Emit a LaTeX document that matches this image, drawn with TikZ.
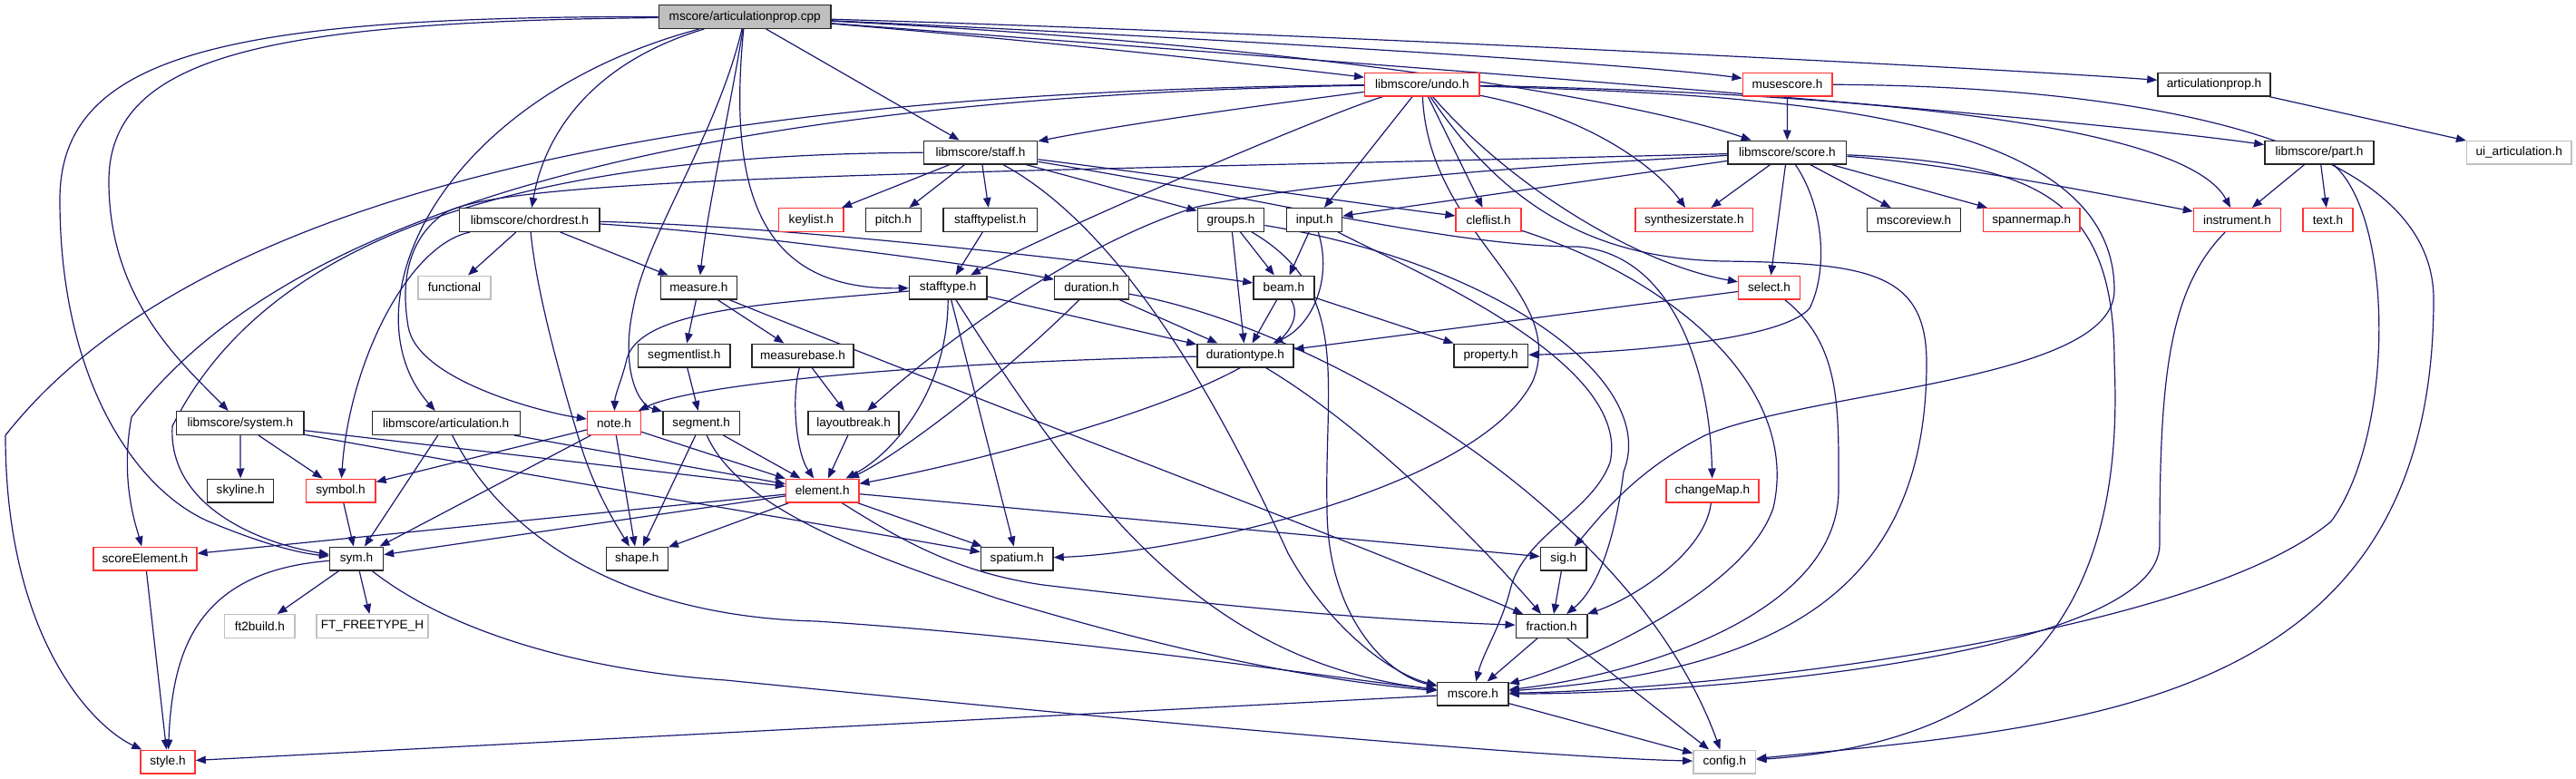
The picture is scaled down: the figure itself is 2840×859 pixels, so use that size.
\documentclass[tikz,border=0pt]{standalone}
\usepackage{fontspec}
\setmainfont{Liberation Sans}
\usetikzlibrary{arrows.meta}
\definecolor{edgeblue}{HTML}{191970}
\definecolor{nodered}{HTML}{FF3333}
\definecolor{nodegray}{HTML}{BFBFBF}
\pgfdeclarelayer{bg}
\pgfsetlayers{bg,main}
\begin{document}
\begin{tikzpicture}[x=1pt,y=-1pt,
  box/.style={draw=black!85,line width=1.4pt,fill=white,minimum height=25.6pt,inner sep=0pt,
    font=\fontsize{13.6}{16}\selectfont,text=black},
  redbox/.style={box,draw=nodered},
  graybox/.style={box,draw=nodegray},
  mainbox/.style={box,fill=nodegray},
  edge/.style={draw=edgeblue,line width=1.2pt,-{Triangle[length=11pt,width=8.5pt]}}]
\useasboundingbox (0,0) rectangle (2840,859);
% row 0
\node[mainbox,minimum width=189.7] (main) at (821.2,18.5) {mscore/articulationprop.cpp};
% row 1
\node[redbox,minimum width=126.3] (undo) at (1567.8,93) {libmscore/undo.h};
\node[redbox,minimum width=98.7] (musescore) at (1970.6,93) {musescore.h};
\node[box,minimum width=124.1] (artprop) at (2441,93) {articulationprop.h};
% row 2
\node[box,minimum width=125.4] (staff) at (1081,168) {libmscore/staff.h};
\node[box,minimum width=130.8] (score) at (1970.3,168) {libmscore/score.h};
\node[box,minimum width=120.3] (part) at (2557,168) {libmscore/part.h};
\node[graybox,minimum width=115.2] (uiart) at (2777.2,168) {ui\_articulation.h};
% row 3
\node[box,minimum width=154.4] (chordrest) at (583.9,242.5) {libmscore/chordrest.h};
\node[redbox,minimum width=71.5] (keylist) at (894.3,242.5) {keylist.h};
\node[box,minimum width=61.1] (pitch) at (985,242.5) {pitch.h};
\node[box,minimum width=103.3] (stafftypelist) at (1091.7,242.5) {stafftypelist.h};
\node[box,minimum width=73.4] (groups) at (1357,242.5) {groups.h};
\node[box,minimum width=61.1] (input) at (1449.2,242.5) {input.h};
\node[redbox,minimum width=72] (cleflist) at (1641.1,242.5) {cleflist.h};
\node[redbox,minimum width=129.5] (synth) at (1867.8,242.5) {synthesizerstate.h};
\node[box,minimum width=102.5] (mscoreview) at (2110,242.5) {mscoreview.h};
\node[redbox,minimum width=106.6] (spannermap) at (2239.7,242.5) {spannermap.h};
\node[redbox,minimum width=95.8] (instrument) at (2466.4,242.5) {instrument.h};
\node[redbox,minimum width=55.2] (texth) at (2566.5,242.5) {text.h};
% row 4
\node[graybox,minimum width=80] (functional) at (501,317) {functional};
\node[box,minimum width=83.8] (measure) at (770.4,317) {measure.h};
\node[box,minimum width=85.5] (stafftype) at (1045.2,317) {stafftype.h};
\node[box,minimum width=81.5] (duration) at (1203.5,317) {duration.h};
\node[box,minimum width=67] (beam) at (1415.4,317) {beam.h};
\node[redbox,minimum width=68] (select) at (1950.6,317) {select.h};
% row 5
\node[box,minimum width=101.4] (segmentlist) at (754.3,392) {segmentlist.h};
\node[box,minimum width=111.9] (measurebase) at (885,392) {measurebase.h};
\node[box,minimum width=105.9] (durationtype) at (1372.9,392) {durationtype.h};
\node[box,minimum width=81.5] (property) at (1643.6,392) {property.h};
% row 6
\node[box,minimum width=140.4] (system) at (264.9,466.5) {libmscore/system.h};
\node[box,minimum width=163] (articulation) at (491.7,466.5) {libmscore/articulation.h};
\node[redbox,minimum width=58.9] (note) at (677,466.5) {note.h};
\node[box,minimum width=84.7] (segment) at (773.2,466.5) {segment.h};
\node[box,minimum width=100] (layoutbreak) at (941.1,466.5) {layoutbreak.h};
% row 7
\node[box,minimum width=72.9] (skyline) at (265.2,541) {skyline.h};
\node[redbox,minimum width=76.6] (symbol) at (375.6,541) {symbol.h};
\node[redbox,minimum width=80.2] (element) at (906.7,541) {element.h};
\node[redbox,minimum width=101.8] (changemap) at (1887.9,541) {changeMap.h};
% row 8
\node[redbox,minimum width=114.1] (scoreelement) at (159.9,616) {scoreElement.h};
\node[box,minimum width=58.9] (sym) at (393,616) {sym.h};
\node[box,minimum width=67.9] (shape) at (702.3,616) {shape.h};
\node[box,minimum width=79.7] (spatium) at (1121.2,616) {spatium.h};
\node[box,minimum width=50.7] (sig) at (1723.8,616) {sig.h};
% row 9
\node[graybox,minimum width=77.4] (ft2build) at (286.4,690.5) {ft2build.h};
\node[graybox,minimum width=122.7] (fttype) at (410.5,690.5) {FT\_FREETYPE\_H};
\node[box,minimum width=78.8] (fraction) at (1710.6,690.5) {fraction.h};
% row 10
\node[box,minimum width=78.4] (mscore) at (1623.9,765) {mscore.h};
% row 11
\node[redbox,minimum width=60.2] (style) at (185,840) {style.h};
\node[graybox,minimum width=68.9] (config) at (1901.3,840) {config.h};

\begin{pgfonlayer}{bg}
% main
\draw[edge] (main) .. controls (1150,45) and (1420,75) .. (undo);
\draw[edge] (main) .. controls (1300,40) and (1800,70) .. (musescore);
\draw[edge] (main) .. controls (1400,35) and (2200,75) .. (artprop);
\draw[edge] (main) .. controls (1450,50) and (1800,110) .. (score);
\draw[edge] (main) .. controls (1500,70) and (2250,125) .. (part);
\draw[edge] (main) -- (staff);
\draw[edge] (main) .. controls (650,70) and (600,150) .. (chordrest);
\draw[edge] (main) .. controls (480,110) and (380,340) .. (articulation);
\draw[edge] (main) .. controls (300,24) and (120,60) .. (120,200) .. controls (120,330) and (200,400) .. (system);
\draw[edge] (main) .. controls (250,18) and (66,60) .. (66,220) .. controls (66,420) and (150,540) .. (230,575) .. controls (290,600) and (330,610) .. (sym);
\draw[edge] (main) .. controls (805,120) and (780,230) .. (measure);
\draw[edge] (main) .. controls (800,230) and (850,320) .. (stafftype);
\draw[edge] (main) .. controls (790,150) and (712,260) .. (698,340) .. controls (685,400) and (700,445) .. (segment);
% undo
\draw[edge] (undo) .. controls (1400,115) and (1250,135) .. (staff);
\draw[edge] (undo) .. controls (1450,130) and (1150,260) .. (stafftype);
\draw[edge] (undo) .. controls (900,100) and (250,170) .. (6,480) .. controls (6,700) and (100,800) .. (style);
\draw[edge] (undo) .. controls (900,105) and (350,190) .. (145,460) .. controls (132,530) and (150,580) .. (scoreelement);
\draw[edge] (undo) -- (input);
\draw[edge] (undo) -- (cleflist);
\draw[edge] (undo) .. controls (1760,130) and (1830,190) .. (synth);
\draw[edge] (undo) .. controls (1660,200) and (1800,290) .. (select);
\draw[edge] (undo) .. controls (1660,230) and (1760,285) .. (1900,288) .. controls (2060,290) and (2124,300) .. (2124,400) .. controls (2124,660) and (1950,740) .. (mscore);
\draw[edge] (undo) .. controls (1950,105) and (2331,120) .. (2331,320) .. controls (2331,420) and (2000,430) .. (1880,480) .. controls (1800,520) and (1760,575) .. (sig);
\draw[edge] (undo) .. controls (1575,260) and (1730,320) .. (1690,420) .. controls (1630,540) and (1300,610) .. (spatium);
\draw[edge] (undo) .. controls (1900,100) and (2400,120) .. (instrument);
% musescore, artprop
\draw[edge] (musescore) -- (score);
\draw[edge] (musescore) .. controls (2350,95) and (2683,150) .. (2683,330) .. controls (2683,780) and (2300,800) .. (config);
\draw[edge] (artprop) -- (uiart);
% score
\draw[edge] (score) -- (input);
\draw[edge] (score) -- (synth);
\draw[edge] (score) -- (mscoreview);
\draw[edge] (score) -- (spannermap);
\draw[edge] (score) -- (select);
\draw[edge] (score) .. controls (2012,230) and (2015,300) .. (1995,340) .. controls (1960,380) and (1750,390) .. (property);
\draw[edge] (score) .. controls (2150,180) and (2350,220) .. (instrument);
\draw[edge] (score) .. controls (2250,180) and (2331,220) .. (2331,400) .. controls (2345,700) and (2200,820) .. (config);
\draw[edge] (score) .. controls (1700,182) and (1450,200) .. (1320,228) .. controls (1200,265) and (1060,360) .. (layoutbreak);
\draw[edge] (score) .. controls (1000,192) and (560,195) .. (490,235) .. controls (440,270) and (445,330) .. (450,360) .. controls (460,420) and (600,455) .. (note);
% part, instrument
\draw[edge] (part) -- (instrument);
\draw[edge] (part) -- (texth);
\draw[edge] (part) .. controls (2640,240) and (2640,480) .. (2570,575) .. controls (2420,700) and (1900,760) .. (mscore);
\draw[edge] (instrument) .. controls (2390,320) and (2381,420) .. (2381,600) .. controls (2381,720) and (1900,765) .. (mscore);
% staff
\draw[edge] (staff) -- (keylist);
\draw[edge] (staff) -- (pitch);
\draw[edge] (staff) -- (stafftypelist);
\draw[edge] (staff) -- (groups);
\draw[edge] (staff) .. controls (1300,195) and (1500,225) .. (cleflist);
\draw[edge] (staff) .. controls (1400,220) and (1600,272) .. (1740,272) .. controls (1840,280) and (1885,400) .. (changemap);
\draw[edge] (staff) .. controls (600,170) and (300,250) .. (190,470) .. controls (185,560) and (290,600) .. (sym);
\draw[edge] (staff) .. controls (1250,260) and (1360,480) .. (1420,610) .. controls (1470,700) and (1540,745) .. (mscore);
% chordrest
\draw[edge] (chordrest) -- (functional);
\draw[edge] (chordrest) .. controls (450,270) and (385,400) .. (symbol);
\draw[edge] (chordrest) .. controls (592,330) and (625,440) .. (640,490) .. controls (655,540) and (680,580) .. (shape);
\draw[edge] (chordrest) -- (measure);
\draw[edge] (chordrest) .. controls (800,255) and (1100,295) .. (duration);
\draw[edge] (chordrest) .. controls (900,250) and (1300,300) .. (beam);
% measure and friends
\draw[edge] (measure) -- (segmentlist);
\draw[edge] (measure) -- (measurebase);
\draw[edge] (measure) .. controls (1100,450) and (1500,600) .. (fraction);
\draw[edge] (segmentlist) -- (segment);
\draw[edge] (measurebase) -- (layoutbreak);
\draw[edge] (measurebase) .. controls (872,440) and (878,500) .. (element);
\draw[edge] (segment) -- (element);
\draw[edge] (segment) -- (shape);
\draw[edge] (segment) .. controls (815,560) and (950,610) .. (1100,660) .. controls (1300,720) and (1450,750) .. (mscore);
\draw[edge] (layoutbreak) -- (element);
% stafftype
\draw[edge] (stafftypelist) -- (stafftype);
\draw[edge] (stafftype) -- (durationtype);
\draw[edge] (stafftype) .. controls (1045,430) and (985,500) .. (element);
\draw[edge] (stafftype) -- (spatium);
\draw[edge] (stafftype) .. controls (1200,560) and (1330,730) .. (mscore);
\draw[edge] (stafftype) .. controls (850,335) and (700,340) .. (690,400) .. controls (685,420) and (678,435) .. (note);
% duration
\draw[edge] (duration) -- (durationtype);
\draw[edge] (duration) .. controls (1100,420) and (985,505) .. (element);
\draw[edge] (duration) .. controls (1450,360) and (1800,560) .. (config);
% beam
\draw[edge] (beam) -- (durationtype);
\draw[edge] (beam) -- (property);
\draw[edge] (beam) .. controls (1470,410) and (1100,505) .. (element);
% groups
\draw[edge] (groups) -- (beam);
\draw[edge] (groups) -- (durationtype);
\draw[edge] (groups) .. controls (1490,320) and (1460,420) .. (1463,560) .. controls (1463,680) and (1530,745) .. (mscore);
\draw[edge] (groups) .. controls (1650,290) and (1830,420) .. (1790,520) .. controls (1780,600) and (1760,650) .. (fraction);
% input
\draw[edge] (input) -- (beam);
\draw[edge] (input) .. controls (1470,310) and (1445,360) .. (durationtype);
\draw[edge] (input) .. controls (1560,300) and (1800,400) .. (1775,510) .. controls (1755,565) and (1680,590) .. (1665,650) .. controls (1655,690) and (1635,720) .. (mscore);
% select
\draw[edge] (select) -- (durationtype);
\draw[edge] (select) .. controls (2030,380) and (2027,450) .. (2027,540) .. controls (2027,680) and (1800,745) .. (mscore);
% durationtype
\draw[edge] (durationtype) .. controls (1000,400) and (760,425) .. (note);
\draw[edge] (durationtype) .. controls (1520,480) and (1650,620) .. (fraction);
% note
\draw[edge] (note) -- (symbol);
\draw[edge] (note) -- (element);
\draw[edge] (note) -- (sym);
\draw[edge] (note) -- (shape);
% system, articulation
\draw[edge] (system) -- (skyline);
\draw[edge] (system) -- (symbol);
\draw[edge] (system) -- (element);
\draw[edge] (system) .. controls (700,545) and (950,585) .. (spatium);
\draw[edge] (articulation) -- (sym);
\draw[edge] (articulation) -- (element);
\draw[edge] (articulation) .. controls (560,600) and (700,680) .. (900,685) .. controls (1200,705) and (1450,745) .. (mscore);
\draw[edge] (symbol) -- (sym);
% element
\draw[edge] (element) -- (scoreelement);
\draw[edge] (element) -- (sym);
\draw[edge] (element) -- (shape);
\draw[edge] (element) -- (spatium);
\draw[edge] (element) -- (sig);
\draw[edge] (element) .. controls (1000,600) and (1060,632) .. (1150,645) .. controls (1400,675) and (1550,685) .. (fraction);
% lower part
\draw[edge] (sig) -- (fraction);
\draw[edge] (changemap) .. controls (1880,610) and (1800,660) .. (fraction);
\draw[edge] (fraction) -- (mscore);
\draw[edge] (fraction) -- (config);
\draw[edge] (mscore) -- (style);
\draw[edge] (mscore) -- (config);
\draw[edge] (cleflist) .. controls (1850,310) and (1985,430) .. (1955,560) .. controls (1925,650) and (1750,730) .. (mscore);
\draw[edge] (scoreelement) -- (style);
\draw[edge] (sym) -- (ft2build);
\draw[edge] (sym) -- (fttype);
\draw[edge] (sym) .. controls (215,630) and (190,720) .. (style);
\draw[edge] (sym) .. controls (500,700) and (650,740) .. (800,750) .. controls (1300,800) and (1700,835) .. (config);
\end{pgfonlayer}
\end{tikzpicture}
\end{document}
